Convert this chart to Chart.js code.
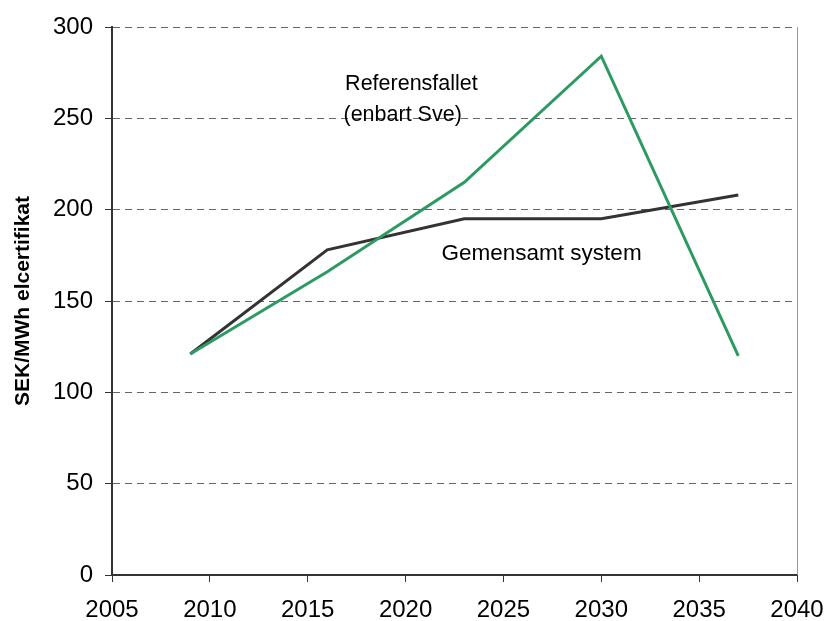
<!DOCTYPE html>
<html>
<head>
<meta charset="utf-8">
<script src="https://cdn.jsdelivr.net/npm/chart.js@4/dist/chart.umd.min.js"></script>
<style>
    html, body { margin: 0; padding: 0; background: #ffffff; }
    #wrap { width: 826px; height: 621px; position: relative; }
</style>
</head>
<body>
<div id="wrap"><canvas id="chart"></canvas></div>
<script>
const years = [2009, 2016, 2023, 2030, 2037];
const referensfallet = [121, 166, 215, 284, 120];
const gemensamt = [121, 178, 195, 195, 208];
const xTicks = [2005, 2010, 2015, 2020, 2025, 2030, 2035, 2040];
const yTicks = [0, 50, 100, 150, 200, 250, 300];

const toPoints = vals => years.map((y, i) => ({ x: y, y: vals[i] }));

const labelPlugin = {
    id: "labels",
    afterDraw(chart) {
        const ctx = chart.ctx;
        const x = chart.scales.x;
        const y = chart.scales.y;
        const area = chart.chartArea;

        // right frame line
        ctx.save();
        ctx.strokeStyle = "#999999";
        ctx.lineWidth = 1;
        ctx.beginPath();
        ctx.moveTo(area.right + 0.5, area.top);
        ctx.lineTo(area.right + 0.5, area.bottom);
        ctx.stroke();

        ctx.fillStyle = "#000000";
        ctx.font = "21.5px 'Liberation Sans', Arial, sans-serif";
        ctx.textAlign = "center";
        ctx.textBaseline = "middle";
        ctx.fillText("Referensfallet", x.getPixelForValue(2020.3), y.getPixelForValue(269));
        ctx.fillText("(enbart Sve)", x.getPixelForValue(2019.85), y.getPixelForValue(252));
        ctx.font = "22.5px 'Liberation Sans', Arial, sans-serif";
        ctx.fillText("Gemensamt system", x.getPixelForValue(2026.95), y.getPixelForValue(176));
        ctx.restore();
    }
};

new Chart(document.getElementById("chart"), {
    type: "line",
    data: {
        datasets: [
            {
                label: "Referensfallet (enbart Sve)",
                data: toPoints(referensfallet),
                borderColor: "#2e9a63",
                borderWidth: 3,
                pointRadius: 0,
                tension: 0
            },
            {
                label: "Gemensamt system",
                data: toPoints(gemensamt),
                borderColor: "#333333",
                borderWidth: 3,
                pointRadius: 0,
                tension: 0
            }
        ]
    },
    options: {
        responsive: true,
        maintainAspectRatio: false,
        animation: false,
        layout: {
            padding: { top: 27, right: 29, left: 0, bottom: 0 }
        },
        plugins: {
            legend: { display: false },
            tooltip: { enabled: false }
        },
        scales: {
            x: {
                type: "linear",
                min: 2005,
                max: 2040,
                afterBuildTicks: s => { s.ticks = xTicks.map(v => ({ value: v })); },
                afterFit: s => { s.height = 46; s.paddingRight = 0; },
                ticks: {
                    color: "#000000",
                    font: { family: "'Liberation Sans', Arial, sans-serif", size: 24 },
                    padding: 14,
                    maxRotation: 0,
                    callback: v => String(v)
                },
                grid: {
                    drawOnChartArea: false,
                    drawTicks: true,
                    tickLength: 7,
                    color: "#333333"
                },
                border: { color: "#333333", width: 2 }
            },
            y: {
                min: 0,
                max: 300,
                afterBuildTicks: s => { s.ticks = yTicks.map(v => ({ value: v })); },
                afterFit: s => { s.width = 112; },
                title: {
                    display: true,
                    text: "SEK/MWh elcertifikat",
                    color: "#000000",
                    font: { family: "'Liberation Sans', Arial, sans-serif", size: 21, weight: "bold" },
                    padding: { top: 11, bottom: 0 }
                },
                ticks: {
                    color: "#000000",
                    font: { family: "'Liberation Sans', Arial, sans-serif", size: 24 },
                    padding: 12
                },
                grid: {
                    color: ctx => ctx.tick.value === 0 ? "#333333" : "#666666",
                    drawTicks: true,
                    tickLength: 7,
                    tickColor: "#333333",
                    tickBorderDash: [],
                    borderDash: [7, 5]
                },
                border: { color: "#333333", width: 2, dash: [7, 5] }
            }
        }
    },
    plugins: [labelPlugin]
});
</script>
</body>
</html>
